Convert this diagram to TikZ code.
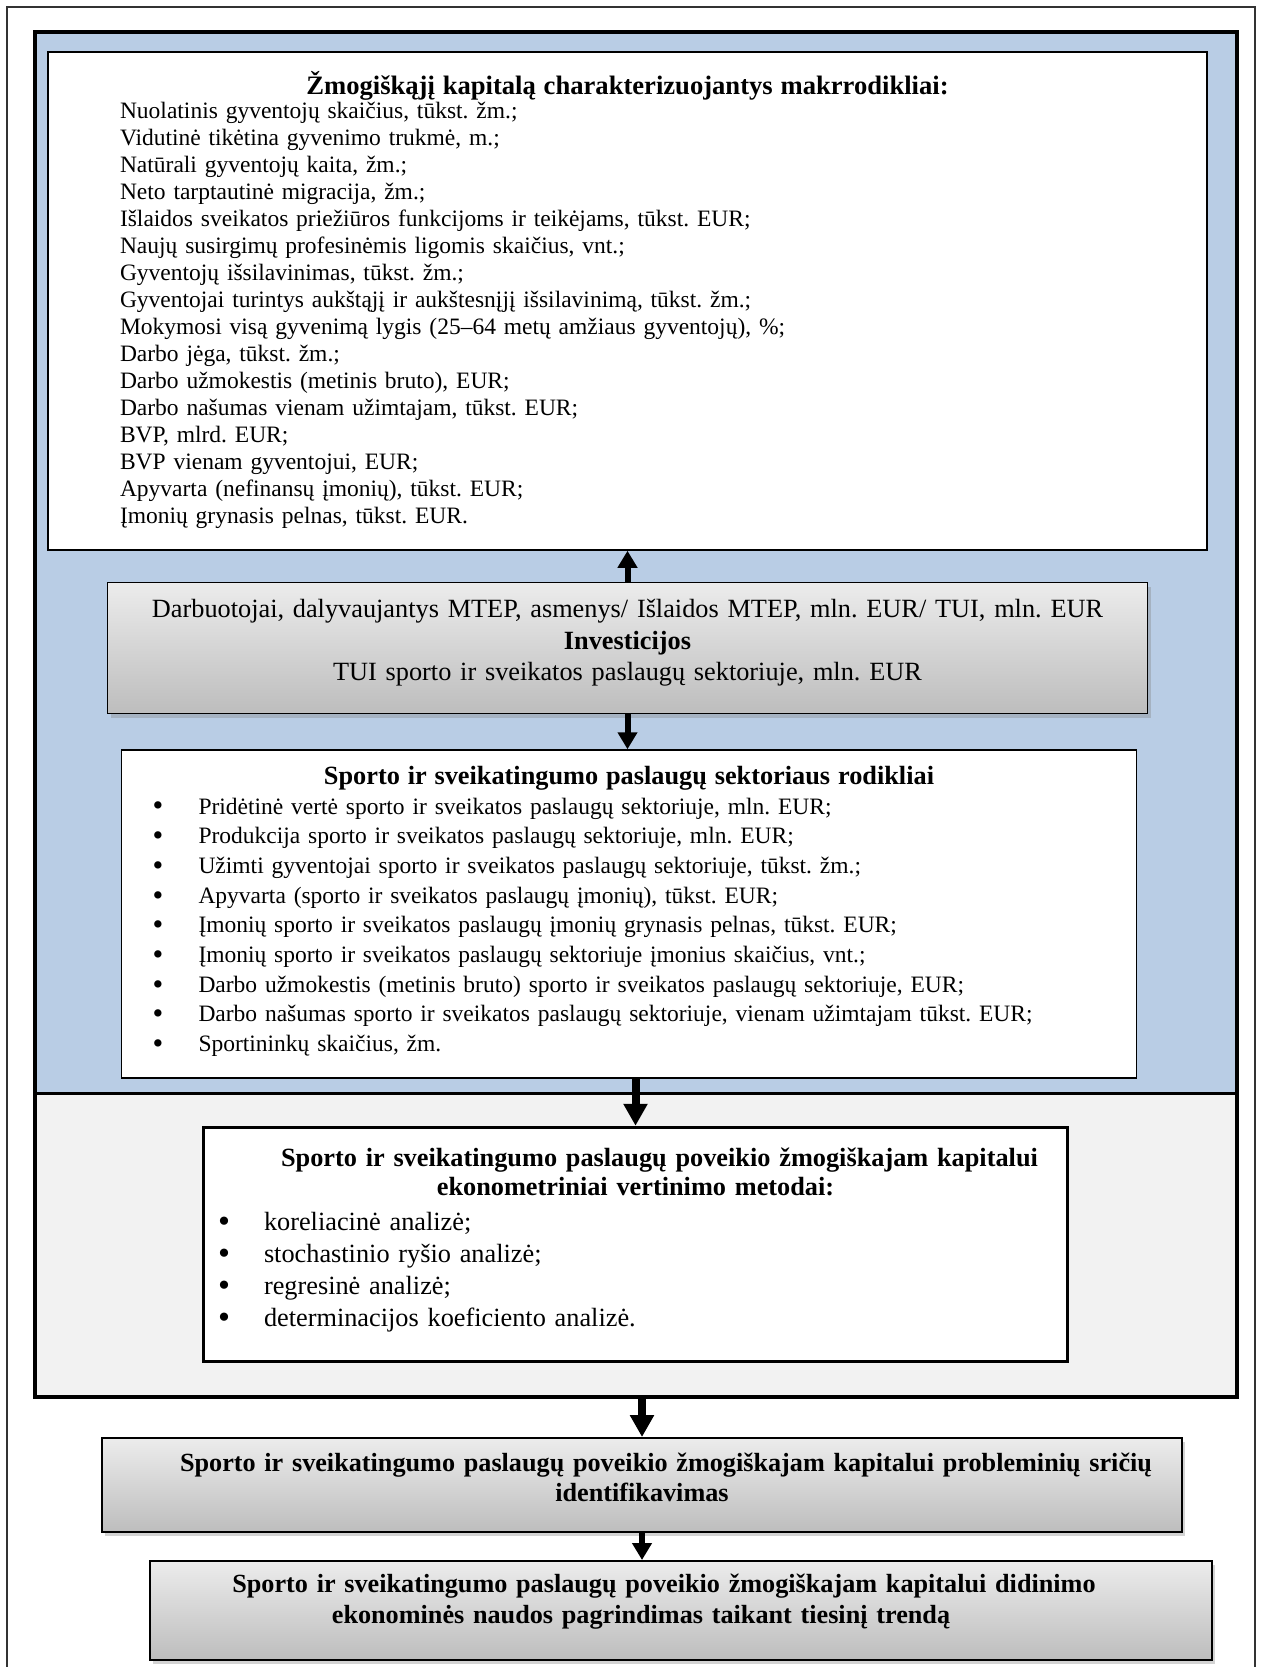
\documentclass[tikz,border=0pt]{standalone}
\usepackage{fontspec}
\setmainfont{Liberation Serif}
\usetikzlibrary{positioning, arrows.meta, shadows}
\frenchspacing

\definecolor{panelblue}{RGB}{185,205,229}
\definecolor{panelgray}{RGB}{242,242,242}
\definecolor{shadetop}{RGB}{236,236,236}
\definecolor{shadebot}{RGB}{189,189,189}

\newcommand{\bitem}[1]{\makebox[46pt][l]{\raisebox{-0.08em}{\scalebox{1.3}{\textbullet}}}#1}
% invisible strut below the last line, lifts the text in its box
\newcommand{\vpush}[1]{\par\nointerlineskip\noindent\rule{0pt}{#1}}

\begin{document}
\begin{tikzpicture}[x=1pt, y=1pt, align=center]
    % Define styles for the blocks
    \tikzstyle{whitebox} = [rectangle, draw=black, line width=1.5pt, fill=white, inner ysep=0pt]
    \tikzstyle{shadebox} = [rectangle, draw=black, line width=1.5pt, top color=shadetop, bottom color=shadebot, drop shadow={shadow xshift=3pt, shadow yshift=-4pt, opacity=0.35}, inner ysep=0pt]
    \tikzstyle{arrow} = [line width=6pt, -{Triangle[width=19pt, length=17pt]}]
    \tikzstyle{bigarrow} = [line width=8pt, -{Triangle[width=23pt, length=22pt]}]

    \useasboundingbox (0,0) rectangle (1262,-1667);

    % Frames
    \draw[line width=1.5pt, black!80] (7,-1667) -- (7,-7) -- (1255,-7) -- (1255,-1667);
    \fill[panelblue] (35,-32) rectangle (1237,-1093);
    \fill[panelgray] (35,-1093) rectangle (1237,-1397);
    \draw[line width=3pt] (35,-1093) -- (1237,-1093);
    \draw[line width=4pt] (35,-32) rectangle (1237,-1397);
    \coordinate (framebottom) at (642,-1397);

    % Define nodes in the flowchart
    \node (makro) [whitebox, minimum width=1159pt, minimum height=498pt, text width=1015pt, inner xsep=72pt, align=left, font=\fontsize{23.5}{27}\selectfont] at (627.5,-301) {{\centering\fontsize{26.6}{25.5}\selectfont\bfseries Žmogiškąjį kapitalą charakterizuojantys makrrodikliai:\par}\vspace{-2.6pt}
    Nuolatinis gyventojų skaičius, tūkst. žm.;\\
    Vidutinė tikėtina gyvenimo trukmė, m.;\\
    Natūrali gyventojų kaita, žm.;\\
    Neto tarptautinė migracija, žm.;\\
    Išlaidos sveikatos priežiūros funkcijoms ir teikėjams, tūkst. EUR;\\
    Naujų susirgimų profesinėmis ligomis skaičius, vnt.;\\
    Gyventojų išsilavinimas, tūkst. žm.;\\
    Gyventojai turintys aukštąjį ir aukštesnįjį išsilavinimą, tūkst. žm.;\\
    Mokymosi visą gyvenimą lygis (25–64 metų amžiaus gyventojų), \%;\\
    Darbo jėga, tūkst. žm.;\\
    Darbo užmokestis (metinis bruto), EUR;\\
    Darbo našumas vienam užimtajam, tūkst. EUR;\\
    BVP, mlrd. EUR;\\
    BVP vienam gyventojui, EUR;\\
    Apyvarta (nefinansų įmonių), tūkst. EUR;\\
    Įmonių grynasis pelnas, tūkst. EUR.\vpush{2pt}};
    \node (invest) [shadebox, minimum width=1040pt, minimum height=131pt, text width=1010pt, font=\fontsize{26.3}{31.5}\selectfont, below=31pt of makro] {Darbuotojai, dalyvaujantys MTEP, asmenys/ Išlaidos MTEP, mln. EUR/ TUI, mln. EUR\\ \textbf{Investicijos}\\ TUI sporto ir sveikatos paslaugų sektoriuje, mln. EUR\vpush{10.6pt}};
    \node (sector) [whitebox, minimum width=1015pt, minimum height=328pt, text width=953pt, inner xsep=31pt, align=left, font=\fontsize{23.5}{29.7}\selectfont, below=35pt of invest, xshift=1.5pt] {{\centering\fontsize{26.3}{29.7}\selectfont\bfseries Sporto ir sveikatingumo paslaugų sektoriaus rodikliai\par}
    \bitem{Pridėtinė vertė sporto ir sveikatos paslaugų sektoriuje, mln. EUR;}\\
    \bitem{Produkcija sporto ir sveikatos paslaugų sektoriuje, mln. EUR;}\\
    \bitem{Užimti gyventojai sporto ir sveikatos paslaugų sektoriuje, tūkst. žm.;}\\
    \bitem{Apyvarta (sporto ir sveikatos paslaugų įmonių), tūkst. EUR;}\\
    \bitem{Įmonių sporto ir sveikatos paslaugų įmonių grynasis pelnas, tūkst. EUR;}\\
    \bitem{Įmonių sporto ir sveikatos paslaugų sektoriuje įmonius skaičius, vnt.;}\\
    \bitem{Darbo užmokestis (metinis bruto) sporto ir sveikatos paslaugų sektoriuje, EUR;}\\
    \bitem{Darbo našumas sporto ir sveikatos paslaugų sektoriuje, vienam užimtajam tūkst. EUR;}\\
    \bitem{Sportininkų skaičius, žm.}\vpush{5.3pt}};
    \node (methods) [whitebox, line width=3.5pt, minimum width=864pt, minimum height=234pt, text width=835pt, inner xsep=14.5pt, align=left, font=\fontsize{26.3}{32}\selectfont, below=47pt of sector, xshift=6.5pt] {{\centering\fontsize{26.3}{29.5}\selectfont\bfseries\hspace*{48pt}Sporto ir sveikatingumo paslaugų poveikio žmogiškajam kapitalui\\ ekonometriniai vertinimo metodai:\par}\vspace{2.5pt}
    \bitem{koreliacinė analizė;}\\
    \bitem{stochastinio ryšio analizė;}\\
    \bitem{regresinė analizė;}\\
    \bitem{determinacijos koeficiento analizė.}\vpush{9.6pt}};
    \node (ident) [shadebox, line width=2pt, minimum width=1080pt, minimum height=94pt, text width=1050pt, font=\fontsize{26.2}{30}\selectfont\bfseries, below=40pt of framebottom] {\hspace*{48pt}Sporto ir sveikatingumo paslaugų poveikio žmogiškajam kapitalui probleminių sričių\\ identifikavimas\vpush{14.8pt}};
    \node (final) [shadebox, line width=2pt, minimum width=1062pt, minimum height=99pt, text width=1040pt, font=\fontsize{26.2}{31}\selectfont\bfseries, below=27pt of ident, xshift=39pt] {\hspace*{46pt}Sporto ir sveikatingumo paslaugų poveikio žmogiškajam kapitalui didinimo\hspace*{80pt}\mbox{}\\ ekonominės naudos pagrindimas taikant tiesinį trendą\hspace*{80pt}\mbox{}\vpush{17pt}};

    % Draw arrows between the nodes
    \draw [arrow] (invest.north) -- (invest.north |- makro.south);
    \draw [arrow] (invest.south) -- (invest.south |- sector.north);
    \draw [bigarrow] (sector.south -| methods.north) -- (methods.north);
    \draw [bigarrow] (framebottom) -- (ident.north);
    \draw [arrow] (ident.south) -- (ident.south |- final.north);

\end{tikzpicture}
\end{document}
